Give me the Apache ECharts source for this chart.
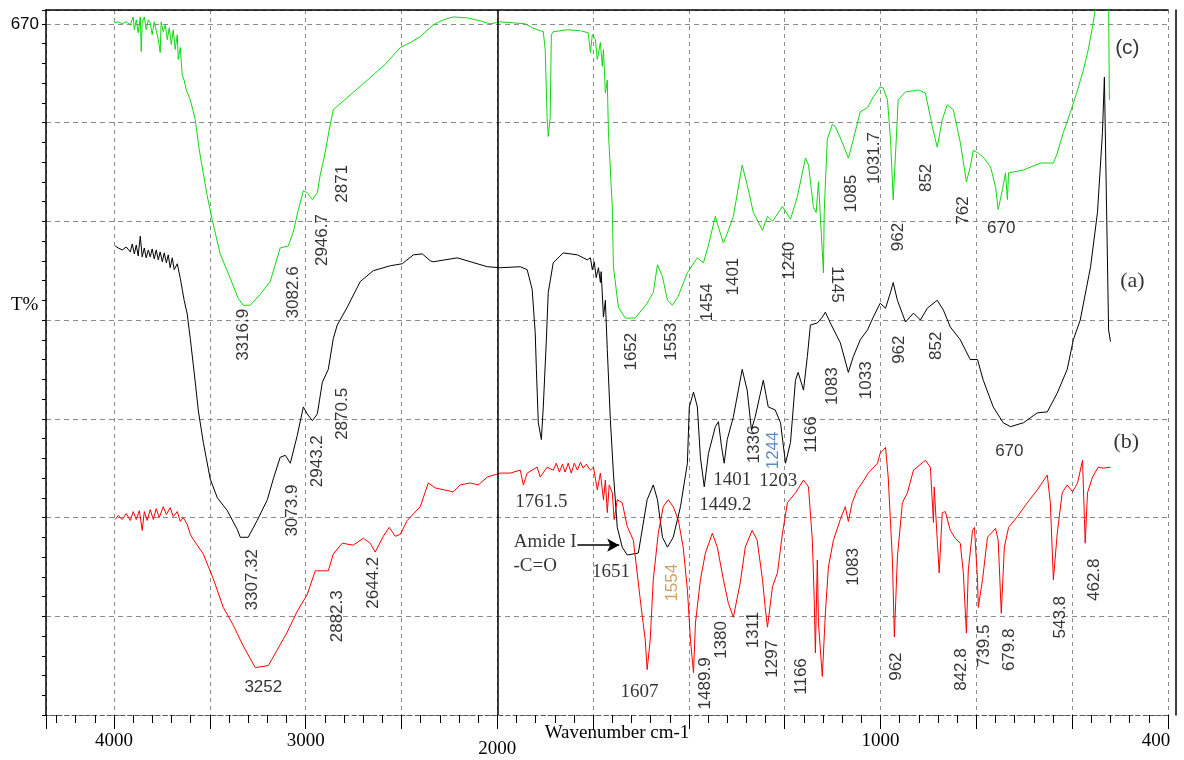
<!DOCTYPE html>
<html><head><meta charset="utf-8">
<script src="https://cdn.jsdelivr.net/npm/echarts@6/dist/echarts.min.js"></script>
<style>html,body{margin:0;padding:0;background:#fff}#c{width:1184px;height:760px}</style>
</head><body><div id="c"></div>
<script>
// ---- data: [wavenumber cm-1, T% (arbitrary offset units)] ----
const greenC = [[3999,70.1],[3978,70.2],[3957,70.0],[3936,70.2],[3915,69.9],[3900,70.7],[3894,69.4],[3884,70.4],[3874,69.1],[3863,70.7],[3858,67.2],[3853,70.2],[3842,70.7],[3832,69.4],[3821,70.4],[3811,70.1],[3801,68.9],[3790,70.2],[3780,70.4],[3769,68.4],[3759,67.1],[3754,70.2],[3743,69.2],[3733,69.9],[3722,68.4],[3712,69.6],[3701,67.9],[3691,69.4],[3681,67.4],[3670,68.9],[3665,66.4],[3654,67.6],[3644,64.8],[3634,64.3],[3623,63.3],[3613,62.8],[3602,62.3],[3576,60.3],[3555,57.2],[3514,52.6],[3487,50.1],[3446,46.7],[3393,44.2],[3352,42.2],[3326,41.5],[3289,41.5],[3237,42.6],[3185,43.9],[3133,47.3],[3091,47.5],[3065,48.9],[3039,51.1],[3012,53.1],[2992,52.9],[2965,52.2],[2939,52.9],[2924,54.7],[2903,56.5],[2872,59.8],[2856,61.3],[2767,62.8],[2678,64.3],[2585,65.9],[2506,67.6],[2454,68.1],[2402,68.7],[2334,69.9],[2282,70.4],[2230,70.7],[2157,70.6],[2089,70.3],[2037,70.0],[1992,70.2],[1958,70.1],[1927,70.0],[1909,69.6],[1880,69.2],[1875,67.4],[1870,60.5],[1867,58.6],[1862,60.5],[1859,68.9],[1854,69.2],[1817,69.4],[1783,69.3],[1763,69.1],[1757,67.1],[1752,68.9],[1744,68.4],[1739,66.4],[1731,68.1],[1726,65.7],[1723,67.4],[1718,63.0],[1713,64.3],[1710,59.0],[1700,51.5],[1697,45.4],[1684,41.3],[1666,40.2],[1640,40.2],[1609,41.7],[1593,42.8],[1582,45.6],[1569,44.4],[1556,42.0],[1543,41.5],[1528,42.4],[1504,44.8],[1478,46.3],[1462,45.8],[1449,47.6],[1431,50.5],[1423,49.4],[1410,47.8],[1397,49.1],[1384,50.5],[1361,55.7],[1345,53.2],[1332,50.9],[1308,49.1],[1295,50.5],[1282,50.0],[1256,51.5],[1235,50.2],[1217,52.5],[1196,56.4],[1188,55.7],[1175,51.4],[1168,50.9],[1162,54.0],[1157,54.0],[1149,44.8],[1147,50.9],[1139,58.3],[1126,59.8],[1118,59.6],[1100,58.0],[1084,56.4],[1071,58.3],[1053,61.1],[1034,61.5],[1019,62.6],[1001,63.6],[993,63.5],[982,62.3],[974,58.3],[967,52.2],[959,58.3],[954,62.3],[935,63.1],[901,63.3],[883,63.0],[865,59.6],[852,57.5],[839,60.3],[826,61.8],[810,61.3],[792,58.0],[776,54.0],[766,55.5],[758,57.2],[745,56.9],[732,56.5],[713,55.5],[700,53.5],[693,51.2],[682,53.2],[674,54.9],[669,52.2],[666,54.9],[627,55.2],[583,55.9],[549,55.9],[539,56.9],[523,59.0],[505,61.0],[486,63.3],[471,65.3],[458,67.4],[447,69.7],[442,70.9],[437,72.5],[405,72.5],[403,62.3]];

const blackA = [[3994,47.5],[3978,47.3],[3957,47.1],[3936,47.4],[3915,46.9],[3905,47.7],[3894,46.7],[3884,47.6],[3874,46.5],[3863,48.5],[3853,46.4],[3842,47.3],[3832,46.3],[3821,47.1],[3811,46.4],[3801,47.2],[3790,46.2],[3780,47.1],[3769,46.1],[3759,46.9],[3748,45.9],[3738,46.8],[3727,45.8],[3717,46.6],[3707,45.3],[3696,46.3],[3686,45.1],[3670,45.7],[3654,44.2],[3644,43.1],[3634,42.0],[3618,40.6],[3602,38.1],[3576,33.7],[3560,30.8],[3534,27.6],[3498,23.9],[3461,22.0],[3409,20.7],[3357,18.8],[3341,18.0],[3300,18.0],[3253,19.7],[3200,21.8],[3169,23.9],[3133,26.1],[3106,26.3],[3080,25.5],[3044,28.3],[3012,31.2],[2992,30.5],[2965,29.8],[2939,30.5],[2913,33.7],[2882,35.0],[2856,38.1],[2835,39.5],[2783,41.3],[2715,43.9],[2647,45.0],[2558,45.5],[2496,45.7],[2438,46.6],[2391,46.7],[2350,46.0],[2334,45.9],[2209,46.3],[2052,45.4],[1992,45.3],[1940,45.4],[1922,45.1],[1909,43.1],[1901,38.7],[1898,35.0],[1893,29.6],[1885,27.9],[1880,31.2],[1872,38.0],[1867,42.8],[1854,45.8],[1828,46.8],[1791,46.6],[1765,46.1],[1757,46.3],[1752,45.1],[1747,45.9],[1742,44.3],[1736,45.3],[1731,43.8],[1729,44.9],[1723,40.3],[1718,42.0],[1713,37.0],[1705,29.9],[1697,24.5],[1687,19.0],[1674,17.0],[1661,16.2],[1632,16.4],[1609,21.8],[1593,23.3],[1582,21.8],[1569,18.0],[1556,17.0],[1541,18.0],[1522,21.1],[1504,25.5],[1499,31.2],[1488,32.7],[1478,31.2],[1470,26.1],[1460,23.1],[1449,26.5],[1431,29.2],[1423,29.7],[1415,27.2],[1408,25.5],[1400,27.9],[1384,30.2],[1361,35.0],[1348,32.9],[1337,28.9],[1327,30.2],[1306,33.9],[1293,31.2],[1275,30.9],[1261,29.6],[1248,25.5],[1235,27.6],[1222,33.9],[1215,34.7],[1201,32.9],[1191,36.3],[1183,39.5],[1165,39.7],[1152,40.3],[1144,40.8],[1131,39.7],[1105,37.7],[1084,34.7],[1071,36.3],[1053,38.0],[1034,39.0],[1019,40.3],[1001,41.7],[987,41.2],[974,42.8],[967,43.8],[956,42.0],[935,39.8],[914,40.7],[896,40.0],[878,41.2],[852,42.0],[836,41.0],[818,39.3],[792,38.0],[766,36.0],[747,36.0],[732,33.9],[706,31.2],[680,29.6],[661,29.2],[627,29.6],[591,30.6],[565,30.7],[539,32.6],[513,35.0],[497,38.0],[479,40.0],[452,45.4],[434,50.9],[421,59.0],[416,64.6],[405,39.0],[400,37.8]];

const redB = [[3994,19.8],[3978,20.2],[3957,19.8],[3936,20.4],[3915,19.7],[3900,20.6],[3884,19.8],[3868,20.7],[3853,18.7],[3842,20.6],[3827,19.7],[3811,20.8],[3795,19.8],[3780,20.9],[3764,20.0],[3743,21.1],[3727,20.3],[3707,21.0],[3691,20.1],[3670,20.6],[3654,19.6],[3639,20.0],[3618,19.3],[3602,18.3],[3587,17.8],[3534,16.3],[3482,13.8],[3430,10.9],[3378,9.1],[3326,7.0],[3263,4.8],[3195,5.0],[3148,6.6],[3096,8.4],[3044,10.5],[2992,12.2],[2950,14.6],[2882,14.6],[2856,16.3],[2809,17.4],[2752,17.2],[2699,17.9],[2663,17.4],[2637,16.5],[2595,18.1],[2564,19.0],[2532,18.1],[2506,18.3],[2470,19.7],[2402,21.1],[2360,23.5],[2324,23.0],[2230,22.6],[2193,23.3],[2141,23.5],[2099,23.3],[2052,24.1],[1992,24.5],[1966,24.5],[1940,24.8],[1932,23.3],[1922,24.5],[1896,25.1],[1888,24.1],[1870,25.1],[1854,24.8],[1846,25.5],[1838,24.6],[1830,25.4],[1823,24.6],[1815,25.5],[1807,24.5],[1799,25.5],[1791,24.8],[1783,25.6],[1776,25.0],[1768,25.4],[1757,24.8],[1749,25.1],[1739,22.8],[1731,24.5],[1723,21.8],[1718,23.8],[1713,20.5],[1708,23.3],[1700,22.5],[1695,19.8],[1687,21.8],[1674,21.5],[1661,19.1],[1645,17.7],[1627,11.7],[1614,7.6],[1609,4.6],[1601,7.6],[1593,13.7],[1580,18.4],[1567,21.1],[1554,21.8],[1541,21.1],[1528,19.8],[1515,17.0],[1504,12.7],[1496,7.6],[1488,4.3],[1483,9.3],[1470,13.7],[1457,16.4],[1439,18.4],[1426,17.0],[1410,13.7],[1397,11.3],[1384,9.9],[1366,13.4],[1353,17.0],[1335,18.7],[1322,17.7],[1308,13.7],[1301,10.9],[1295,8.9],[1282,13.0],[1269,14.4],[1256,18.4],[1243,21.5],[1222,22.5],[1201,23.8],[1188,23.1],[1178,17.7],[1173,11.7],[1170,6.3],[1165,15.7],[1162,9.3],[1152,3.9],[1144,10.3],[1136,15.0],[1123,17.7],[1105,19.8],[1092,21.1],[1084,19.6],[1074,21.5],[1061,22.8],[1048,23.5],[1032,24.5],[1008,25.5],[1001,26.5],[987,27.1],[980,24.1],[969,15.7],[964,7.9],[956,16.0],[943,21.5],[930,22.5],[914,24.8],[883,25.8],[870,25.1],[862,19.5],[860,23.1],[852,17.7],[847,14.4],[839,20.5],[831,20.6],[818,18.7],[805,17.9],[792,17.4],[784,14.4],[776,8.3],[771,14.7],[760,18.7],[755,19.0],[747,13.7],[745,10.9],[734,13.7],[721,18.0],[700,18.9],[693,17.7],[685,10.3],[677,17.0],[666,19.0],[643,20.1],[617,21.5],[591,22.8],[565,24.3],[557,21.5],[549,13.7],[539,18.4],[526,22.5],[513,23.3],[499,22.6],[486,23.5],[473,25.8],[468,19.8],[466,17.4],[460,22.5],[447,24.1],[432,25.1],[419,25.0],[400,25.1]];

// x tick positions (cm-1) and the text printed under them in the reference
const xTickValues = [4000, 3000, 2000, 1000, 250];
const xTickText   = ['4000', '3000', '2000', '1000', '400'];
const yTickValues = [70];
const yTickText   = ['670'];

// peak annotations: [text, wavenumber, T value, rotation, kind]
const peakLabels = [
 ['3316.9',3326,38.5,90,'s'],['3082.6',3065,42.8,90,'s'],['2946.7',2913,48.1,90,'s'],['2871',2809,53.8,90,'s'],
 ['1652',1650,36.8,90,'s'],['1553',1546,37.8,90,'s'],['1454',1452,41.8,90,'s'],['1401',1384,44.4,90,'s'],
 ['1240',1238,46.0,90,'s'],['1145',1115,43.6,-90,'s'],['1085',1076,52.8,90,'s'],['1031.7',1016,56.4,90,'s'],
 ['962',954,48.4,90,'s'],['852',880,54.4,90,'s'],['762',784,51.1,90,'s'],['670',685,49.3,0,'s'],
 ['(c)',356,67.5,0,'c'],['(a)',343,43.9,0,'t'],['(b)',359,27.6,0,'t'],
 ['3307.32',3279,13.7,90,'s'],['3073.9',3070,20.7,90,'s'],['2943.2',2939,25.7,90,'s'],['2870.5',2809,30.5,90,'s'],
 ['1761.5',1885,21.6,0,'f'],['Amide I',1875,17.5,0,'f'],['-C=O',1901,15.1,0,'f'],['1651',1703,14.5,0,'f'],
 ['1449.2',1405,21.3,0,'f'],['1401',1387,23.8,0,'f'],['1336',1329,27.4,90,'s'],['1244',1280,26.8,90,'b'],
 ['1203',1267,23.7,0,'f'],['1166',1181,28.4,90,'s'],['1083',1126,33.3,90,'s'],['1033',1037,33.9,90,'s'],
 ['962',951,37.0,90,'s'],['852',854,37.4,90,'s'],['670',664,26.7,0,'s'],
 ['3252',3221,2.8,0,'s'],['2882.3',2835,10.0,90,'s'],['2644.2',2647,13.4,90,'s'],['1607',1629,2.3,0,'f'],
 ['1554',1543,13.4,90,'o'],['1489.9',1457,3.2,90,'s'],['1380',1415,7.6,90,'s'],['1311',1332,8.6,90,'s'],
 ['1297',1282,5.7,90,'s'],['1166',1207,3.9,90,'s'],['1083',1071,15.0,90,'s'],['962',959,4.9,90,'s'],
 ['842.8',789,4.6,90,'s'],['739.5',729,7.0,90,'s'],['679.8',664,6.6,90,'s'],['543.8',531,9.9,90,'s'],['462.8',442,13.7,90,'s']
];
const amideArrow = [1791, 1682, 17.2]; // from, to (cm-1), T value

// axis scale: below 2000 cm-1 the spectrum is expanded 2x (as on the instrument plot)
function toAxis(w){ return w >= 2000 ? w : 2*w - 2000; }
function fromAxis(u){ return u >= 2000 ? u : (u + 2000)/2; }
const mapSeries = arr => arr.map(p => [toAxis(p[0]), p[1]]);

const SANS = "'Liberation Sans', Arial, sans-serif";
const SERIF = "'Liberation Serif', 'Times New Roman', serif";
const styles = {
  s: {fontFamily: SANS, fontSize: 17, color: '#000'},
  f: {fontFamily: SERIF, fontSize: 19, color: '#000'},
  t: {fontFamily: SERIF, fontSize: 22, color: '#000'},
  c: {fontFamily: SANS, fontSize: 21, color: '#000'},
  b: {fontFamily: SANS, fontSize: 17, color: '#2f6bb5'},
  o: {fontFamily: SANS, fontSize: 17, color: '#c48a35'}
};

const chart = echarts.init(document.getElementById('c'), null, {renderer: 'canvas'});
const GRID_LINE = '#8a8a8a';
const option = {
  animation: false,
  backgroundColor: '#fff',
  title: {
    text: 'T%', left: 11, top: 296, padding: 0,
    textStyle: {fontFamily: SERIF, fontSize: 19, fontWeight: 'normal', color: '#000'}
  },
  grid: {left: 46, right: 16, top: 10, bottom: 45, containLabel: false, outerBoundsMode: 'none'},
  xAxis: [{
    type: 'value', min: -1500, max: 4355, interval: 500, inverse: true, position: 'bottom',
    name: 'Wavenumber cm-1', nameLocation: 'middle', nameGap: 9, nameMoveOverlap: false,
    nameTextStyle: {fontFamily: SERIF, fontSize: 19, color: '#000', padding: [0, 0, 0, 20]},
    axisLine: {show: true, onZero: false, lineStyle: {color: '#555', width: 1, type: [4, 3]}},
    axisTick: {show: true, length: 14, inside: false, lineStyle: {color: '#000', width: 1}},
    minorTick: {show: true, splitNumber: 5, length: 8, lineStyle: {color: '#000', width: 1}},
    splitLine: {show: true, lineStyle: {color: GRID_LINE, width: 1, type: [4, 4]}},
    axisLabel: {
      margin: 17, fontFamily: SERIF, fontSize: 19, color: '#000', showMinLabel: true, showMaxLabel: true,
      formatter: function (u) {
        const w = fromAxis(u);
        for (let i = 0; i < xTickValues.length; i++) {
          if (Math.abs(w - xTickValues[i]) < 1e-6) {
            if (xTickValues[i] === 2000) return '{gap|}\n{n|' + xTickText[i] + '}';
            if (xTickValues[i] === 250) return '{sh|' + xTickText[i] + '}';
            return xTickText[i];
          }
        }
        return '';
      },
      rich: {
        gap: {height: 8, lineHeight: 8, fontSize: 2},
        n: {fontFamily: SERIF, fontSize: 19, color: '#000'},
        sh: {padding: [0, 24, 0, 0], fontFamily: SERIF, fontSize: 19, color: '#000'}
      }
    }
  }, {
    type: 'value', min: -1500, max: 4355, inverse: true, position: 'top',
    axisLine: {show: true, onZero: false, lineStyle: {color: '#000', width: 1.5}},
    axisTick: {show: false}, axisLabel: {show: false}, splitLine: {show: false}
  }],
  yAxis: [{
    type: 'value', min: 0, max: 71.4, interval: 10, position: 'left',
    axisLine: {show: true, onZero: false, lineStyle: {color: '#000', width: 1.5}},
    axisTick: {show: true, length: 4, inside: false, lineStyle: {color: '#000'}},
    minorTick: {show: true, splitNumber: 5, length: 4, lineStyle: {color: '#000'}},
    splitLine: {show: true, lineStyle: {color: GRID_LINE, width: 1, type: [5, 4]}},
    axisLabel: {
      margin: 7, fontFamily: SANS, fontSize: 17, color: '#000',
      formatter: function (v) {
        const i = yTickValues.findIndex(t => Math.abs(t - v) < 1e-6);
        return i >= 0 ? yTickText[i] : '';
      }
    }
  }, {
    type: 'value', min: 0, max: 71.4, position: 'right', offset: 8,
    axisLine: {show: true, onZero: false, lineStyle: {color: '#000', width: 1.5}},
    axisTick: {show: false}, axisLabel: {show: false}, splitLine: {show: false}
  }],
  series: [
    {
      name: '(c)', type: 'line', data: mapSeries(greenC), showSymbol: false, symbol: 'none',
      lineStyle: {color: '#10d810', width: 1}, silent: true, z: 3,
      markLine: {
        silent: true, symbol: 'none', label: {show: false},
        lineStyle: {color: '#000', type: 'solid', width: 1.5},
        data: [{xAxis: toAxis(2000)}]
      }
    },
    {
      name: '(a)', type: 'line', data: mapSeries(blackA), showSymbol: false, symbol: 'none',
      lineStyle: {color: '#000', width: 1}, silent: true, z: 3,
      markLine: {
        silent: true, symbol: ['none', 'arrow'], symbolSize: [10, 12], label: {show: false},
        lineStyle: {color: '#000', type: 'solid', width: 1.5},
        data: [[{coord: [toAxis(amideArrow[0]), amideArrow[2]]}, {coord: [toAxis(amideArrow[1]), amideArrow[2]]}]]
      }
    },
    {
      name: '(b)', type: 'line', data: mapSeries(redB), showSymbol: false, symbol: 'none',
      lineStyle: {color: '#ff0000', width: 1}, silent: true, z: 3
    },
    {
      name: 'labels', type: 'scatter', symbolSize: 1, silent: true, z: 5,
      itemStyle: {color: 'rgba(0,0,0,0)'},
      data: peakLabels.map(p => ({
        value: [toAxis(p[1]), p[2]],
        label: Object.assign({
          show: true, position: 'inside', align: 'center', verticalAlign: 'middle',
          rotate: p[3], formatter: p[0]
        }, styles[p[4]])
      }))
    }
  ]
};
chart.setOption(option);
</script>
</body></html>
